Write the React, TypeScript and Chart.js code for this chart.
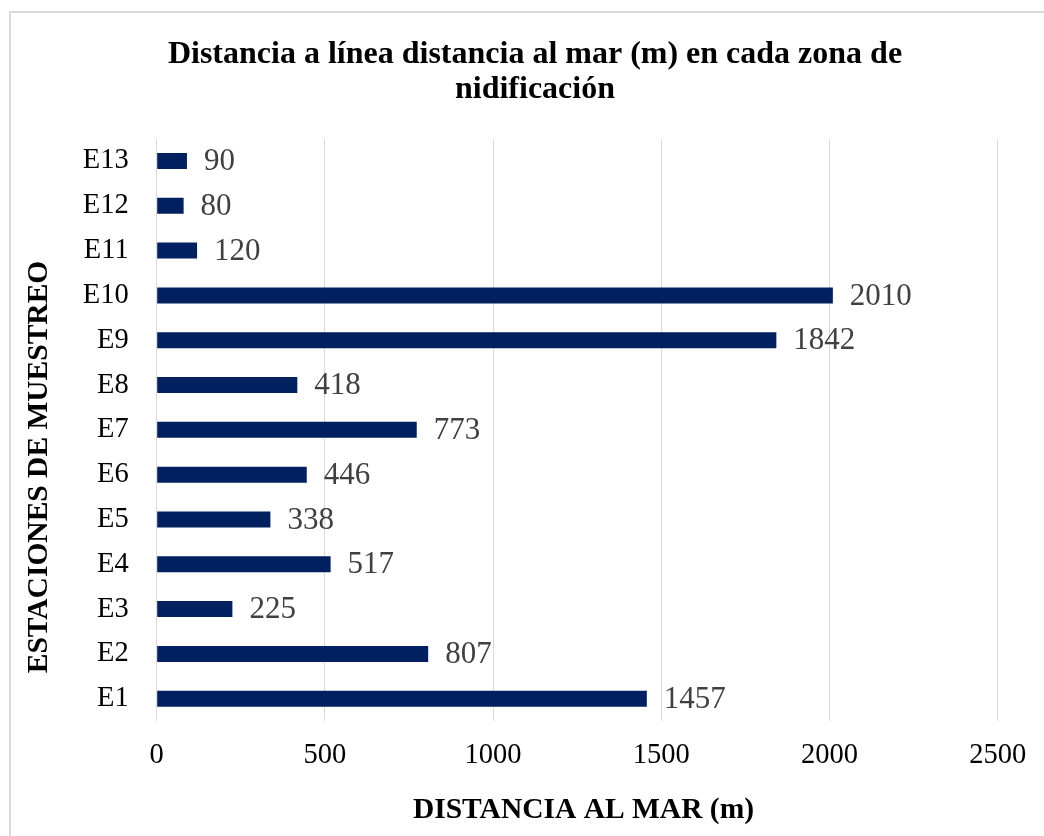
import { useEffect, useRef } from 'react';
import { Chart, registerables } from 'chart.js';

Chart.register(...registerables);

const stations = ['E1', 'E2', 'E3', 'E4', 'E5', 'E6', 'E7', 'E8', 'E9', 'E10', 'E11', 'E12', 'E13'];
const distances = [1457, 807, 225, 517, 338, 446, 773, 418, 1842, 2010, 120, 80, 90];
const xTickValues = [0, 500, 1000, 1500, 2000, 2500];

const chartTitle = ['Distancia a línea distancia al mar (m) en cada zona de', 'nidificación'];
const xTitle = 'DISTANCIA AL MAR (m)';
const yTitle = 'ESTACIONES DE MUESTREO';

const FONT = "'Liberation Serif', 'Times New Roman', serif";

const valueLabels = {
  id: 'valueLabels',
  afterDatasetsDraw(chart: any) {
    const ctx = chart.ctx;
    const meta = chart.getDatasetMeta(0);
    ctx.save();
    ctx.font = `31px ${FONT}`;
    ctx.fillStyle = '#404040';
    ctx.textAlign = 'left';
    ctx.textBaseline = 'middle';
    meta.data.forEach((bar: any, i: number) => {
      ctx.fillText(String(distances[i]), bar.x + 17, bar.y + 1);
    });
    ctx.restore();
  },
};

const axisTitles = {
  id: 'axisTitles',
  afterDraw(chart: any) {
    const ctx = chart.ctx;
    ctx.save();
    ctx.font = `bold 29.5px ${FONT}`;
    ctx.fillStyle = '#000';
    ctx.textAlign = 'center';
    ctx.textBaseline = 'middle';
    // x axis title
    ctx.fillText(xTitle, 572.5, 797);
    // y axis title
    ctx.translate(28, 454);
    ctx.rotate(-Math.PI / 2);
    ctx.fillText(yTitle, 0, 0);
    ctx.restore();
  },
};

export default function App() {
  const canvasRef = useRef<HTMLCanvasElement | null>(null);

  useEffect(() => {
    if (!canvasRef.current) return;
    const chart = new Chart(canvasRef.current, {
      type: 'bar',
      data: {
        labels: stations,
        datasets: [
          {
            data: distances,
            backgroundColor: '#002060',
            borderWidth: 0,
            barPercentage: 0.357,
            categoryPercentage: 1,
          },
        ],
      },
      plugins: [valueLabels, axisTitles],
      options: {
        indexAxis: 'y',
        responsive: false,
        animation: false,
        devicePixelRatio: 1,
        layout: { padding: { left: 61.3, right: 46.3, top: 0, bottom: 0 } },
        plugins: {
          legend: { display: false },
          tooltip: { enabled: false },
          title: {
            display: true,
            text: chartTitle,
            color: '#000',
            font: { family: FONT, size: 32, weight: 'bold', lineHeight: 35 / 32 },
            padding: { top: 24, bottom: 31.6 },
          },
        },
        scales: {
          x: {
            type: 'linear',
            min: 0,
            max: 2500,
            afterBuildTicks: (scale: any) => {
              scale.ticks = xTickValues.map((v) => ({ value: v }));
            },
            afterFit: (scale: any) => {
              scale.height = 114.9;
            },
            grid: { color: '#d9d9d9', lineWidth: 1, drawTicks: false },
            border: { display: false },
            ticks: {
              color: '#000',
              padding: 17.6,
              font: { family: FONT, size: 28.5 },
              maxRotation: 0,
              callback: (v: any) => String(v),
            },
          },
          y: {
            type: 'category',
            reverse: true,
            afterFit: (scale: any) => {
              scale.width = 84.4;
            },
            grid: { display: false, drawTicks: false },
            border: { display: false },
            ticks: {
              color: '#000',
              padding: 28,
              font: { family: FONT, size: 28.5 },
            },
          },
        },
      },
    });
    return () => chart.destroy();
  }, []);

  return (
    <div
      style={{
        position: 'absolute',
        left: 9,
        top: 11,
        width: 1035,
        height: 825,
        borderTop: '2px solid #d9d9d9',
        borderLeft: '2px solid #d9d9d9',
        boxSizing: 'border-box',
        overflow: 'hidden',
        background: '#fff',
      }}
    >
      <canvas ref={canvasRef} width={1033} height={823} style={{ display: 'block', width: 1033, height: 823 }} />
    </div>
  );
}
